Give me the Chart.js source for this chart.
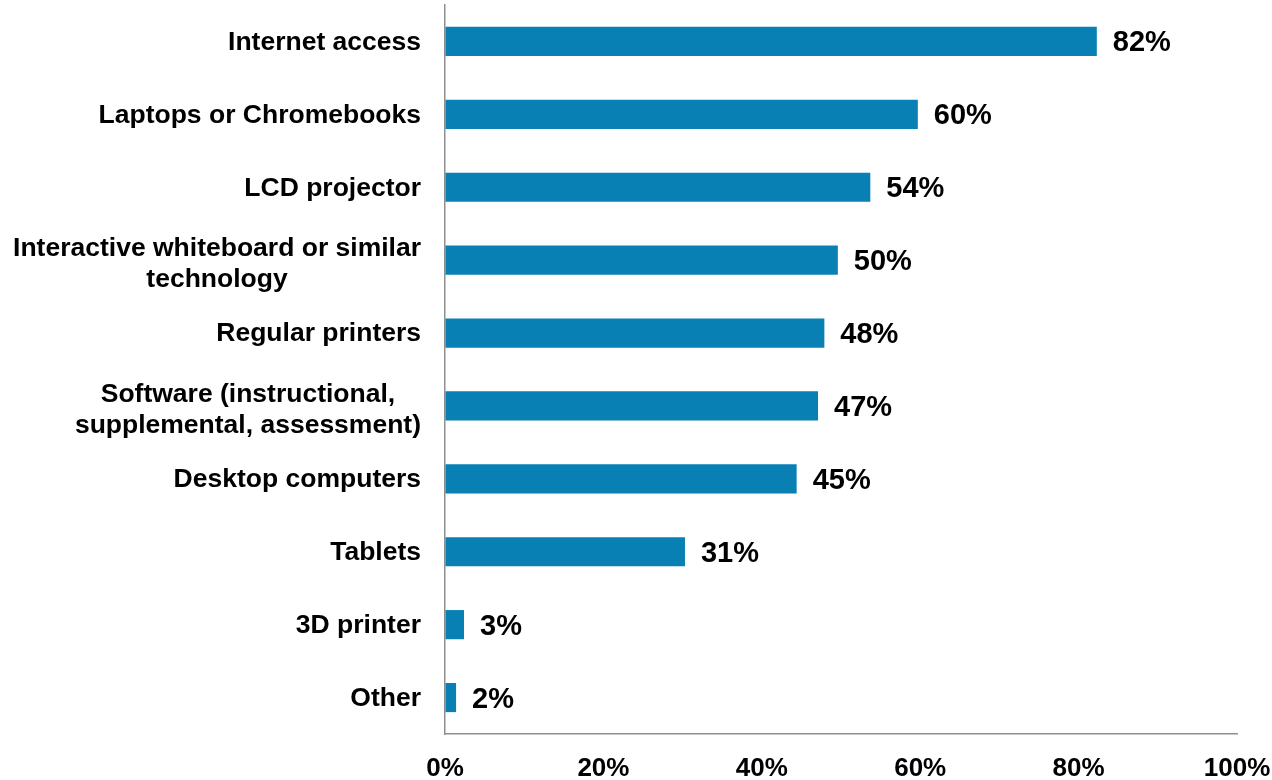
<!DOCTYPE html>
<html>
<head>
<meta charset="utf-8">
<script src="https://cdn.jsdelivr.net/npm/chart.js@4/dist/chart.umd.min.js"></script>
<style>
  html, body { margin: 0; padding: 0; background: #fff; }
  #wrap { width: 1272px; height: 780px; position: relative; }
</style>
</head>
<body>
<div id="wrap"><canvas id="techChart"></canvas></div>
<script>
// Categories (top to bottom) and bar values
const categories = [
    ['Internet access'],
    ['Laptops or Chromebooks'],
    ['LCD projector'],
    ['Interactive whiteboard or similar', 'technology'],
    ['Regular printers'],
    ['Software (instructional,', 'supplemental, assessment)'],
    ['Desktop computers'],
    ['Tablets'],
    ['3D printer'],
    ['Other']
];
const values = [82.3, 59.7, 53.7, 49.6, 47.9, 47.1, 44.4, 30.3, 2.4, 1.4];
const valueLabels = ['82%', '60%', '54%', '50%', '48%', '47%', '45%', '31%', '3%', '2%'];
const xTicks = [0, 20, 40, 60, 80, 100];

const FONT = '"Liberation Sans", Arial, sans-serif';

// Category labels: block right aligned to the axis, lines centred inside the block
const categoryLabels = {
    id: 'categoryLabels',
    afterDraw(chart) {
        const ctx = chart.ctx;
        const yScale = chart.scales.y;
        const right = chart.chartArea.left - 24;
        const lineH = 31;
        ctx.save();
        ctx.font = 'bold 26.5px ' + FONT;
        ctx.fillStyle = '#000';
        ctx.textAlign = 'center';
        ctx.textBaseline = 'middle';
        categories.forEach((lines, i) => {
            const y = yScale.getPixelForValue(i);
            const w = Math.max(...lines.map(l => ctx.measureText(l).width));
            const cx = right - w / 2;
            const top = y - (lines.length - 1) * lineH / 2 + (lines.length > 1 ? 3 : 0);
            lines.forEach((l, j) => ctx.fillText(l, cx, top + j * lineH + 1));
        });
        ctx.restore();
    }
};

// Value labels at the end of each bar
const valueLabelPlugin = {
    id: 'valueLabels',
    afterDatasetsDraw(chart) {
        const ctx = chart.ctx;
        const meta = chart.getDatasetMeta(0);
        ctx.save();
        ctx.font = 'bold 29px ' + FONT;
        ctx.fillStyle = '#000';
        ctx.textAlign = 'left';
        ctx.textBaseline = 'middle';
        meta.data.forEach((bar, i) => {
            ctx.fillText(valueLabels[i], bar.x + 16, bar.y + 2);
        });
        ctx.restore();
    }
};

const ctx = document.getElementById('techChart').getContext('2d');
const techChart = new Chart(ctx, {
    type: 'bar',
    data: {
        labels: categories.map(c => c.join(' ')),
        datasets: [{
            data: values,
            backgroundColor: '#0880B4',
            borderWidth: 0,
            barPercentage: 0.4,
            categoryPercentage: 1.0
        }]
    },
    options: {
        indexAxis: 'y',
        responsive: true,
        maintainAspectRatio: false,
        animation: false,
        layout: {
            padding: { top: 5, right: 35, bottom: 0, left: 0 }
        },
        plugins: {
            legend: { display: false },
            tooltip: { enabled: false }
        },
        scales: {
            x: {
                min: 0,
                max: 100,
                afterBuildTicks: (scale) => {
                    scale.ticks = xTicks.map(v => ({ value: v }));
                },
                grid: { drawOnChartArea: false, drawTicks: false },
                border: { display: true, color: '#8f8f8f', width: 1.5 },
                ticks: {
                    padding: 19,
                    color: '#000',
                    font: { family: FONT, size: 26, weight: 'bold' },
                    maxRotation: 0,
                    callback: (v) => v + '%'
                },
                afterFit: (scale) => {
                    scale.height = 46;
                    scale.paddingLeft = 0;
                    scale.paddingRight = 0;
                }
            },
            y: {
                grid: { drawOnChartArea: false, drawTicks: false },
                border: { display: true, color: '#8f8f8f', width: 1.5 },
                ticks: { display: false },
                afterFit: (scale) => {
                    scale.width = 445;
                    scale.paddingTop = 0;
                    scale.paddingBottom = 0;
                }
            }
        }
    },
    plugins: [categoryLabels, valueLabelPlugin]
});
</script>
</body>
</html>
